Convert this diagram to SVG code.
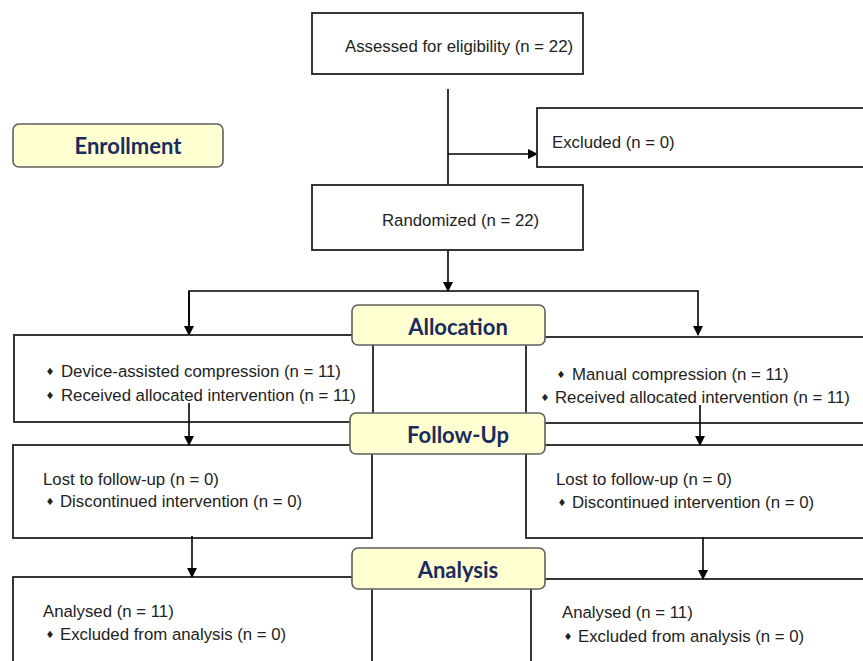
<svg xmlns="http://www.w3.org/2000/svg" width="863" height="661" viewBox="0 0 863 661">
<defs>
<marker id="ah" markerWidth="10" markerHeight="10" refX="9" refY="5" orient="auto" markerUnits="userSpaceOnUse">
<path d="M0,0 L10,5 L0,10 z" fill="#000"/>
</marker>
<style>
.box{fill:#fff;stroke:#222;stroke-width:1.8}
.lbl{fill:#FFFFD2;stroke:#5f5f5f;stroke-width:1.6}
.lt{font-family:"Lato","Open Sans",sans-serif;font-weight:bold;font-size:22px;fill:#1a2c5e;text-anchor:middle}
.t{font-family:"Liberation Sans",Arial,sans-serif;font-size:16.8px;fill:#222}
.b{font-family:"DejaVu Sans",sans-serif;font-size:10px;fill:#222;text-anchor:middle}
.c{fill:none;stroke:#000;stroke-width:1.6}
</style>
</defs>
<rect width="863" height="661" fill="#fff"/>

<g id="connectors">
<line class="c" x1="448" y1="89" x2="448" y2="185"/>
<line class="c" x1="448" y1="154" x2="537" y2="154" marker-end="url(#ah)"/>
<line class="c" x1="448" y1="250" x2="448" y2="291" marker-end="url(#ah)"/>
<polyline class="c" points="189,335 189,291 698,291 698,335" marker-end="url(#ah)"/>
<line class="c" x1="189" y1="291" x2="189" y2="335" marker-end="url(#ah)"/>
</g>

<g id="assessed">
<rect class="box" x="312" y="13" width="271" height="61"/>
<text class="t" x="345" y="52">Assessed for eligibility (n = 22)</text>
</g>
<g id="excluded">
<rect class="box" x="537" y="108" width="340" height="59"/>
<text class="t" x="552" y="148">Excluded (n = 0)</text>
</g>
<g id="randomized">
<rect class="box" x="312" y="185" width="271" height="65"/>
<text class="t" x="382" y="226">Randomized (n = 22)</text>
</g>

<g id="alloc-left">
<rect class="box" x="14" y="335" width="359" height="87"/>
<text class="b" x="50" y="375">♦</text>
<text class="t" x="61" y="377">Device-assisted compression (n = 11)</text>
<text class="b" x="50" y="399">♦</text>
<text class="t" x="61" y="401">Received allocated intervention (n = 11)</text>
</g>
<g id="alloc-right">
<rect class="box" x="526" y="337" width="350" height="86"/>
<text class="b" x="561" y="378">♦</text>
<text class="t" x="572" y="380">Manual compression (n = 11)</text>
<text class="b" x="545" y="401">♦</text>
<text class="t" x="555" y="403">Received allocated intervention (n = 11)</text>
</g>

<g id="follow-left">
<rect class="box" x="13" y="445" width="359" height="93"/>
<text class="t" x="43" y="485">Lost to follow-up (n = 0)</text>
<text class="b" x="50" y="505">♦</text>
<text class="t" x="60" y="507">Discontinued intervention (n = 0)</text>
</g>
<g id="follow-right">
<rect class="box" x="526" y="445" width="350" height="93"/>
<text class="t" x="556" y="485">Lost to follow-up (n = 0)</text>
<text class="b" x="562" y="506">♦</text>
<text class="t" x="572" y="508">Discontinued intervention (n = 0)</text>
</g>

<g id="analysis-left">
<rect class="box" x="13" y="577" width="359" height="100"/>
<text class="t" x="43" y="617">Analysed (n = 11)</text>
<text class="b" x="50" y="638">♦</text>
<text class="t" x="60" y="640">Excluded from analysis (n = 0)</text>
</g>
<g id="analysis-right">
<rect class="box" x="531" y="579" width="350" height="100"/>
<text class="t" x="562" y="618">Analysed (n = 11)</text>
<text class="b" x="568" y="640">♦</text>
<text class="t" x="578" y="642">Excluded from analysis (n = 0)</text>
</g>

<g id="connectors2">
<line class="c" x1="189" y1="403" x2="189" y2="445" marker-end="url(#ah)"/>
<line class="c" x1="700" y1="405" x2="700" y2="445" marker-end="url(#ah)"/>
<line class="c" x1="192" y1="536" x2="192" y2="577" marker-end="url(#ah)"/>
<line class="c" x1="703" y1="537" x2="703" y2="579" marker-end="url(#ah)"/>
</g>

<g id="enrollment">
<rect class="lbl" x="13" y="124" width="210" height="43" rx="6"/>
<text class="lt" x="128" y="154">Enrollment</text>
</g>
<g id="allocation">
<rect class="lbl" x="352" y="305" width="193" height="40" rx="6"/>
<text class="lt" x="458" y="335">Allocation</text>
</g>
<g id="followup">
<rect class="lbl" x="350" y="413" width="195" height="41" rx="6"/>
<text class="lt" x="458" y="443">Follow-Up</text>
</g>
<g id="analysis">
<rect class="lbl" x="352" y="548" width="193" height="41" rx="6"/>
<text class="lt" x="458" y="578">Analysis</text>
</g>
</svg>
